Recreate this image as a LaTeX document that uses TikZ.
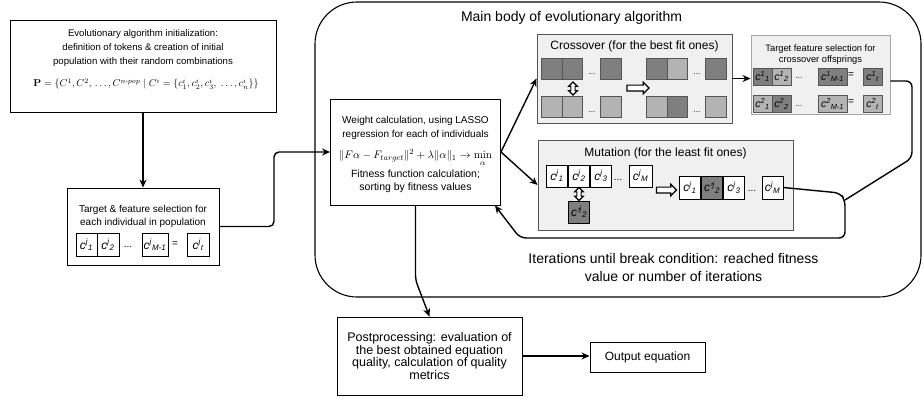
\documentclass[tikz,border=0pt]{standalone}
\usepackage{amsmath, amssymb}
\usepackage[no-math]{fontspec}
\setmainfont{Liberation Sans}
\usepackage{tikz}
\definecolor{EAdark}{HTML}{7F7F7F}
\definecolor{EAlight}{HTML}{B3B3B3}
\definecolor{EApanel}{HTML}{F0F0F0}
\definecolor{EAedge}{HTML}{555555}
\definecolor{EAfaint}{HTML}{A6A6A6}
\usetikzlibrary{arrows.meta, shapes.arrows, calc, positioning}

\newcommand{\gene}[2]{\textit{c\textsuperscript{#1}\textsubscript{#2}}}

\begin{document}
\begin{tikzpicture}[x=1pt, y=-1pt,
    procbox/.style={draw, line width=0.9pt, fill=white, inner sep=0pt},
    panel/.style={draw=EAedge, line width=0.9pt, fill=EApanel, inner sep=0pt},
    gene/.style={draw, line width=0.7pt, inner sep=0pt, minimum width=21pt,
      minimum height=22pt, font=\fontsize{12}{12}\selectfont},
    flow/.style={line width=1.4pt, rounded corners=5pt,
      -{Stealth[length=8pt, width=7pt]}},
    swaparrow/.style={double arrow, draw, line width=1.1pt, fill=white,
      rotate=90, minimum height=13pt, inner sep=1.6pt,
      double arrow head extend=2.2pt},
    hollowarrow/.style={single arrow, draw, line width=1.1pt, fill=white,
      minimum height=22pt, inner sep=2.4pt, single arrow head extend=2.8pt}]
  \useasboundingbox (0,0) rectangle (923,399);

  % Main body frame
  \draw[line width=1.1pt, rounded corners=42pt] (315,2) rectangle (921,297);
  \node[font=\fontsize{14}{14}\selectfont] (title) at (571.5,18) {Main body of evolutionary algorithm};
  \node[font=\fontsize{14}{18}\selectfont, align=center] (iter) at (673.5,267)
    {Iterations until break condition: reached fitness\\value or number of iterations};

  % Initialization
  \node[procbox, minimum width=266pt, minimum height=92pt] (init) at (143,66) {};
  \node[font=\fontsize{9.6}{14}\selectfont, align=center] at (143,48)
    {Evolutionary algorithm initialization:\\definition of tokens \& creation of initial\\population with their random combinations};
  \node[inner sep=1pt] at (146,84) {$\mathbf{P}=\{C^1,C^2,\,\dots,C^{n\text{-}pop}\mid C^i=\{c_1^i,c_2^i,c_3^i,\;\dots,c_n^i\}\}$};

  % Target & feature selection
  \node[procbox, minimum width=152pt, minimum height=77pt] (target) at (143,226.5) {};
  \node[font=\fontsize{10}{13}\selectfont, align=center] at (143,216.5)
    {Target \& feature selection for\\each individual in population};
  \node[gene, minimum height=23pt] (g1) at (86.5,245) {\gene{j}{1}};
  \node[gene, minimum height=23pt, minimum width=22pt] (g2) at (108,245) {\gene{j}{2}};
  \node[font=\fontsize{10}{10}\selectfont] at (128,247) {...};
  \node[gene, minimum height=23pt, minimum width=26pt] (gM) at (155,245) {\gene{j}{M-1}};
  \node[font=\fontsize{10}{10}\selectfont] at (175,244) {=};
  \node[gene, minimum height=23pt, minimum width=22pt] (gt) at (198,245) {\gene{j}{t}};

  % Weight calculation
  \node[procbox, minimum width=170pt, minimum height=106pt] (weight) at (415.5,152) {};
  \node[font=\fontsize{10}{14}\selectfont, align=center] at (415.5,128)
    {Weight calculation, using LASSO\\regression for each of individuals};
  \node[font=\fontsize{11}{13}\selectfont] at (415.5,158) {$\|F\alpha-F_{target}\|^2+\lambda\|\alpha\|_1\to\min\limits_{\alpha}$};
  \node[font=\fontsize{10.5}{13}\selectfont, align=center] at (415.5,181)
    {Fitness function calculation;\\sorting by fitness values};

  % Crossover
  \node[panel, minimum width=195pt, minimum height=89pt] (cross) at (634.5,78.5) {};
  \node[font=\fontsize{12}{12}\selectfont] at (634.5,46) {Crossover (for the best fit ones)};
  \node[gene, draw=EAedge, fill=EAdark, minimum width=20.5pt, minimum height=21pt] (a1) at (552,68.5) {};
  \node[gene, draw=EAedge, fill=EAdark, minimum width=20.5pt, minimum height=21pt] (a2) at (572.5,68.5) {};
  \node[font=\fontsize{8}{8}\selectfont] at (592,74) {...};
  \node[gene, draw=EAedge, fill=EAdark, minimum width=20.5pt, minimum height=21pt] (a3) at (611,68.5) {};
  \node[gene, draw=EAedge, fill=EAlight, minimum width=20.5pt, minimum height=21pt] (b1) at (552,106.5) {};
  \node[gene, draw=EAedge, fill=EAlight, minimum width=20.5pt, minimum height=21pt] (b2) at (572.5,106.5) {};
  \node[font=\fontsize{8}{8}\selectfont] at (592,112) {...};
  \node[gene, draw=EAedge, fill=EAlight, minimum width=20.5pt, minimum height=21pt] (b3) at (611,106.5) {};
  \node[swaparrow] (axb) at (573,88.5) {};
  \node[hollowarrow] (cfwd) at (636.5,88) {};
  \node[gene, draw=EAedge, fill=EAdark, minimum width=20.5pt, minimum height=21pt] (o1) at (657,68.5) {};
  \node[gene, draw=EAedge, fill=EAlight, minimum width=20.5pt, minimum height=21pt] (o2) at (677.5,68.5) {};
  \node[font=\fontsize{8}{8}\selectfont] at (697,74) {...};
  \node[gene, draw=EAedge, fill=EAdark, minimum width=20.5pt, minimum height=21pt] (o3) at (716,68.5) {};
  \node[gene, draw=EAedge, fill=EAlight, minimum width=20.5pt, minimum height=21pt] (p1) at (657,106.5) {};
  \node[gene, draw=EAedge, fill=EAdark, minimum width=20.5pt, minimum height=21pt] (p2) at (677.5,106.5) {};
  \node[font=\fontsize{8}{8}\selectfont] at (697,112) {...};
  \node[gene, draw=EAedge, fill=EAlight, minimum width=20.5pt, minimum height=21pt] (p3) at (716,106.5) {};

  % Target feature selection for offsprings
  \node[panel, draw=EAfaint, minimum width=139pt, minimum height=79pt] (tfs) at (820.5,74.5) {};
  \node[font=\fontsize{9.3}{11.5}\selectfont, align=center] at (820.5,54.5)
    {Target feature selection for\\crossover offsprings};
  \node[gene, draw=EAedge, fill=EAdark, minimum width=19pt, minimum height=17pt, font=\fontsize{10.5}{10.5}\selectfont] (t11) at (762.5,76.5) {\gene{1}{1}};
  \node[gene, draw=EAedge, fill=EAlight, minimum width=19pt, minimum height=17pt, font=\fontsize{10.5}{10.5}\selectfont] (t12) at (781.5,76.5) {\gene{1}{2}};
  \node[font=\fontsize{8}{8}\selectfont] at (799,78) {...};
  \node[gene, draw=EAedge, fill=EAdark, minimum width=29pt, minimum height=17pt, font=\fontsize{10.5}{10.5}\selectfont] (t1M) at (832.5,76.5) {\gene{1}{M-1}};
  \node[font=\fontsize{10}{10}\selectfont] at (851,75) {=};
  \node[gene, draw=EAedge, fill=EAdark, minimum width=19pt, minimum height=17pt, font=\fontsize{10.5}{10.5}\selectfont] (t1t) at (872.5,76.5) {\gene{1}{t}};
  \node[gene, draw=EAedge, fill=EAlight, minimum width=19pt, minimum height=17pt, font=\fontsize{10.5}{10.5}\selectfont] (t21) at (762.5,104) {\gene{2}{1}};
  \node[gene, draw=EAedge, fill=EAdark, minimum width=19pt, minimum height=17pt, font=\fontsize{10.5}{10.5}\selectfont] (t22) at (781.5,104) {\gene{2}{2}};
  \node[font=\fontsize{8}{8}\selectfont] at (799,106) {...};
  \node[gene, draw=EAedge, fill=EAlight, minimum width=29pt, minimum height=17pt, font=\fontsize{10.5}{10.5}\selectfont] (t2M) at (832.5,104) {\gene{2}{M-1}};
  \node[font=\fontsize{10}{10}\selectfont] at (851,102.5) {=};
  \node[gene, draw=EAedge, fill=EAlight, minimum width=19pt, minimum height=17pt, font=\fontsize{10.5}{10.5}\selectfont] (t2t) at (872.5,104) {\gene{2}{t}};

  % Mutation
  \node[panel, minimum width=255pt, minimum height=90pt] (mut) at (665.5,185) {};
  \node[font=\fontsize{12}{12}\selectfont] at (665.5,153) {Mutation (for the least fit ones)};
  \node[gene, fill=white] (m1) at (557,176) {\gene{j}{1}};
  \node[gene, fill=white] (m2) at (579,176) {\gene{j}{2}};
  \node[gene, fill=white] (m3) at (601,176) {\gene{j}{3}};
  \node[font=\fontsize{10}{10}\selectfont] at (618,180) {...};
  \node[gene, fill=white, minimum width=23pt] (mM) at (640.5,176) {\gene{j}{M}};
  \node[swaparrow] (mxm) at (579,194) {};
  \node[gene, fill=EAdark] (mp) at (579,212) {\textit{c'\textsuperscript{j}\textsubscript{2}}};
  \node[hollowarrow, minimum height=20pt] (mfwd) at (665,190) {};
  \node[gene, fill=white, minimum height=23pt] (n1) at (690,187.5) {\gene{j}{1}};
  \node[gene, fill=EAdark, minimum height=23pt] (n2) at (712,187.5) {\textit{c'\textsuperscript{j}\textsubscript{2}}};
  \node[gene, fill=white, minimum height=23pt] (n3) at (734,187.5) {\gene{j}{3}};
  \node[font=\fontsize{10}{10}\selectfont] at (752,191) {...};
  \node[gene, fill=white, minimum height=23pt] (nM) at (772.5,187.5) {\gene{j}{M}};

  % Postprocessing and output
  \node[procbox, minimum width=185pt, minimum height=78pt, align=center,
    font=\fontsize{12.5}{12.5}\selectfont] (post) at (429.5,356)
    {Postprocessing: evaluation of\\the best obtained equation\\quality, calculation of quality\\metrics};
  \node[procbox, minimum width=115pt, minimum height=30pt,
    font=\fontsize{12}{12}\selectfont] (output) at (647.5,357) {Output equation};

  % Connectors
  \draw[flow] (init.south) -- (target.north);
  \draw[flow] (target.east) -- (274,226.5) |- (weight.west);
  \draw[flow, rounded corners=0pt] (weight.east) -- (cross.west);
  \draw[flow, rounded corners=0pt] (weight.east) -- (mut.west);
  \draw[flow] (cross.east) -- (cross.east -| tfs.west);
  \coordinate (join) at (845,200);
  \draw[line width=1.4pt, rounded corners=6pt] ([yshift=-6.5pt]tfs.east) -- (912,81) -- (912,158) -- (join);
  \draw[flow, rounded corners=6pt] (nM.east) -- (840,193) -- (join) -- (845,238) -- (520,238)
    -- ([xshift=-6pt]weight.south east);
  \draw[flow] (weight.south) -- (415.5,280) -- (post.north);
  \draw[flow] (post.east) -- (post.east -| output.west);
\end{tikzpicture}
\end{document}
